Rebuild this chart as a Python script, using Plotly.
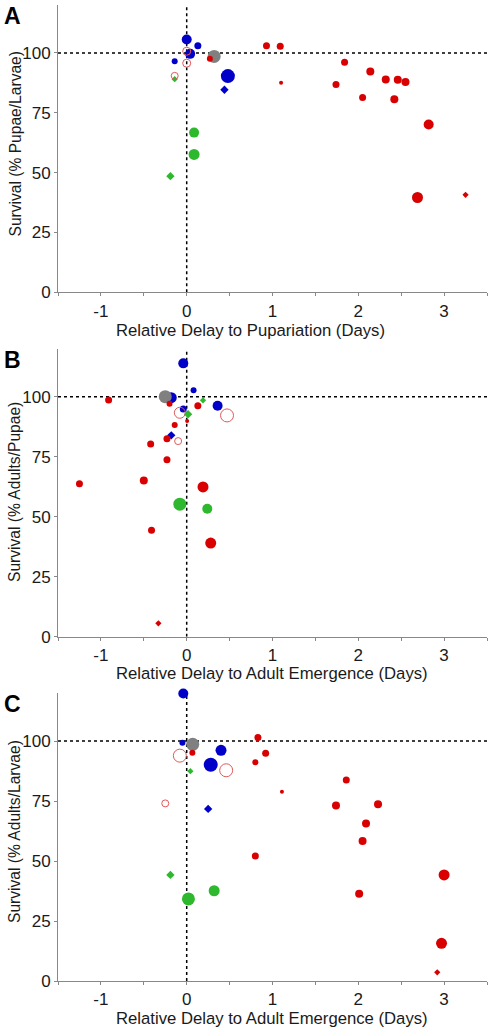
import plotly.graph_objects as go

# ---------------- data ----------------
# groups: red, red_open, red_diamond, blue, blue_diamond, green, green_diamond, gray
# n_class: relative sample-size class (mapped to marker size)
A_x = [0.27, 0.93, 1.09, 1.10, 1.84, 2.14, 1.74, 2.05, 2.32, 2.46, 2.55, 2.42, 2.82, 2.69,
       0.00, 0.00, -0.14, 3.25,
       0.00, 0.13, 0.04, -0.14, 0.48, 0.44,
       0.086, 0.086, -0.14, -0.19, 0.32]
A_y = [97.6, 103.0, 102.8, 87.5, 96.1, 92.2, 86.8, 81.4, 88.9, 88.75, 87.8, 80.6, 70.1, 39.6,
       100.7, 95.7, 90.4, 40.7,
       105.6, 103.0, 99.6, 96.5, 90.3, 84.6,
       66.7, 57.6, 89.0, 48.5, 98.5]
A_group = ["red"] * 14 + ["red_open"] * 3 + ["red_diamond"] + ["blue"] * 5 + ["blue_diamond"] + \
          ["green"] * 2 + ["green_diamond"] * 2 + ["gray"]
A_n = [2, 3, 3, 1, 3, 4, 3, 3, 4, 4, 4, 4, 5, 6,
       4, 4, 3, 2,
       5, 3, 5, 2, 8, 4,
       5, 6, 2, 4, 7]

B_x = [-0.20, 0.13, 0.005, -0.14, -0.23, -0.91, -0.42, -0.23, -0.50, -1.25, 0.19, -0.41, 0.28,
       -0.08, 0.47, -0.10, -0.33,
       -0.04, 0.08, -0.18, 0.36, -0.04, -0.18,
       -0.08, 0.24, 0.19, 0.016, -0.25]
B_y = [97.1, 96.25, 89.9, 88.2, 82.5, 98.6, 80.3, 73.75, 65.1, 63.75, 62.4, 44.4, 39.0,
       93.3, 92.2, 81.5, 5.6,
       113.9, 102.7, 99.6, 96.25, 94.9, 83.9,
       55.2, 53.3, 98.5, 92.7, 100.0]
B_group = ["red"] * 13 + ["red_open"] * 3 + ["red_diamond"] + ["blue"] * 5 + ["blue_diamond"] + \
          ["green"] * 2 + ["green_diamond"] * 2 + ["gray"]
B_n = [2, 3, 1, 2, 3, 3, 3, 3, 4, 3, 6, 3, 6,
       6, 7, 3, 2,
       5, 2, 6, 5, 3, 4,
       7, 5, 2, 4, 7]

C_x = [0.066, 0.83, 0.92, 0.80, 1.86, 1.11, 1.74, 2.23, 2.09, 2.05, 0.80, 3.00, 2.01, 2.97,
       -0.08, 0.46, -0.25, 2.92,
       -0.04, -0.05, 0.40, 0.28, 0.25,
       0.32, 0.02, 0.043, -0.19, 0.07]
C_y = [95.1, 101.5, 94.9, 91.1, 83.75, 78.9, 73.1, 73.6, 65.6, 58.3, 52.1, 44.2, 36.4, 15.7,
       93.9, 87.8, 74.0, 3.6,
       119.8, 99.3, 96.1, 90.1, 71.7,
       37.6, 34.2, 87.4, 44.2, 98.6]
C_group = ["red"] * 14 + ["red_open"] * 3 + ["red_diamond"] + ["blue"] * 4 + ["blue_diamond"] + \
          ["green"] * 2 + ["green_diamond"] * 2 + ["gray"]
C_n = [2, 3, 3, 2, 3, 1, 4, 4, 4, 4, 3, 6, 4, 6,
       7, 7, 3, 2,
       5, 2, 6, 8, 4,
       6, 7, 2, 4, 7]

panel_labels = ["A", "B", "C"]
x_titles = ["Relative Delay to Pupariation (Days)",
            "Relative Delay to Adult Emergence (Days)",
            "Relative Delay to Adult Emergence (Days)"]
y_titles = ["Survival (% Pupae/Larvae)",
            "Survival (% Adults/Pupae)",
            "Survival (% Adults/Larvae)"]
x_ticks = [-1, 0, 1, 2, 3]
x_ticktext = ["-1", "0", "1", "2", "3"]
y_ticks = [0, 25, 50, 75, 100]

# ---------------- styles ----------------
SIZE_PX = {1: 4, 2: 6, 3: 7, 4: 8, 5: 10, 6: 11, 7: 13, 8: 14}
STYLE = {
    "blue": dict(color="#0000c8", symbol="circle"),
    "blue_diamond": dict(color="#0000c8", symbol="diamond"),
    "green": dict(color="#2db82d", symbol="circle"),
    "green_diamond": dict(color="#2db82d", symbol="diamond"),
    "gray": dict(color="#808080", symbol="circle"),
    "red": dict(color="#d80000", symbol="circle"),
    "red_open": dict(color="#e05a5a", symbol="circle-open"),
    "red_diamond": dict(color="#d80000", symbol="diamond"),
}
DRAW_ORDER = ["blue", "blue_diamond", "green", "green_diamond", "gray", "red", "red_open", "red_diamond"]

W, H = 492, 1030
ML, MR, MT, MB = 58, 5, 5, 49
plot_w = W - ML - MR
plot_h = H - MT - MB
# pixel tops/bottoms of each panel
panels_px = [(5, 292.3), (348.7, 636.7), (693, 981)]
xtitle_off = [38, 37, 37]
ytitle_center = [144, 492.5, 831.5]


def py_to_paper(py):
    return (H - MB - py) / plot_h


def px_to_paper(px):
    return (px - ML) / plot_w


fig = go.Figure()
panels = [(A_x, A_y, A_group, A_n), (B_x, B_y, B_group, B_n), (C_x, C_y, C_group, C_n)]

font_fam = "Liberation Sans, Arial, sans-serif"
TXT = "#1a1a1a"

for i, (xs, ys, gs, ns) in enumerate(panels):
    xa = "x" if i == 0 else f"x{i+1}"
    ya = "y" if i == 0 else f"y{i+1}"
    top, bot = panels_px[i]
    d0 = py_to_paper(bot)
    d1 = py_to_paper(top)
    for g in DRAW_ORDER:
        idx = [k for k, gg in enumerate(gs) if gg == g]
        if not idx:
            continue
        st = STYLE[g]
        sizes = [SIZE_PX[ns[k]] * (0.8 if "diamond" in g else 1.0) for k in idx]
        marker = dict(color=st["color"], symbol=st["symbol"], size=sizes, opacity=1,
                      line=dict(width=0))
        if st["symbol"] == "circle-open":
            marker["line"] = dict(width=1, color=st["color"])
        fig.add_trace(go.Scatter(x=[xs[k] for k in idx], y=[ys[k] for k in idx], mode="markers",
                                 marker=marker, xaxis=xa, yaxis=ya, showlegend=False,
                                 cliponaxis=False, hoverinfo="skip"))
    axis_common = dict(showline=True, linecolor="#888888", linewidth=1, showgrid=False,
                       zeroline=False, ticks="outside", ticklen=3, tickcolor="#888888",
                       automargin=False,
                       tickfont=dict(family=font_fam, size=17, color=TXT))
    xkey = "xaxis" if i == 0 else f"xaxis{i+1}"
    ykey = "yaxis" if i == 0 else f"yaxis{i+1}"
    fig.update_layout(**{
        xkey: dict(axis_common, range=[-1.5, 3.5], tickvals=x_ticks, ticktext=x_ticktext,
                   anchor=ya,
                   minor=dict(tickvals=[-1.5, -0.5, 0.5, 1.5, 2.5, 3.5], ticks="outside",
                              ticklen=3, tickcolor="#888888"),
                   domain=[0, 1]),
        ykey: dict(axis_common, range=[0, 120], tickvals=y_ticks, anchor=xa,
                   domain=[d0, d1]),
    })
    # reference dotted lines
    fig.add_shape(type="line", xref=xa, yref=ya, x0=-1.5, x1=3.5, y0=100, y1=100,
                  line=dict(color="black", width=1.5, dash="dot"), layer="below")
    fig.add_shape(type="line", xref=xa, yref=ya, x0=0, x1=0, y0=0, y1=120,
                  line=dict(color="black", width=1.5, dash="dot"), layer="below")
    # axis titles
    fig.add_annotation(text=x_titles[i], xref="paper", yref="paper",
                       x=px_to_paper(114), y=py_to_paper(bot + xtitle_off[i]),
                       xanchor="left", yanchor="middle", showarrow=False,
                       font=dict(family=font_fam, size=16.7, color=TXT))
    fig.add_annotation(text=y_titles[i], xref="paper", yref="paper",
                       x=px_to_paper(14.5), y=py_to_paper(ytitle_center[i]),
                       xanchor="center", yanchor="middle", showarrow=False, textangle=-90,
                       font=dict(family=font_fam, size=15.6, color=TXT))
    # panel label
    fig.add_annotation(text=f"<b>{panel_labels[i]}</b>", xref="paper", yref="paper",
                       x=px_to_paper(2), y=py_to_paper(top - 4),
                       xanchor="left", yanchor="top", showarrow=False,
                       font=dict(family=font_fam, size=23, color="black"))

fig.update_layout(width=W, height=H, margin=dict(l=ML, r=MR, t=MT, b=MB, autoexpand=False),
                  plot_bgcolor="white", paper_bgcolor="white", showlegend=False)

fig.write_html("out.html", config={"displayModeBar": False},
               post_script="document.body.style.margin='0px';document.body.style.overflow='hidden';")
